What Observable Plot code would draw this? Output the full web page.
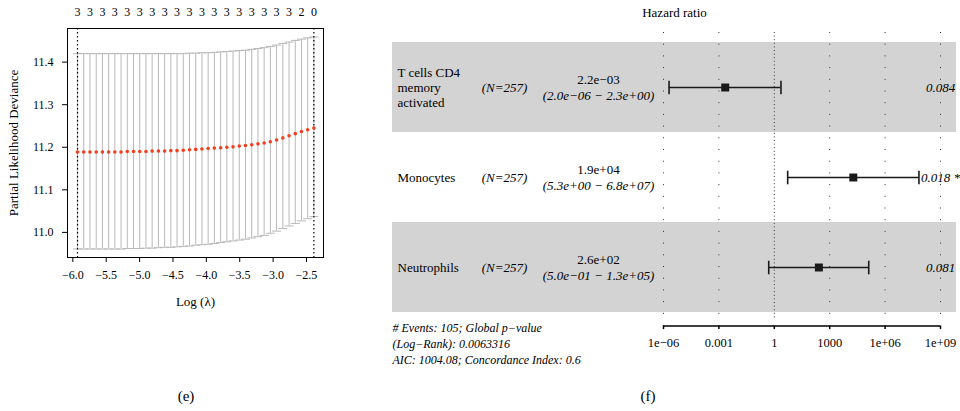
<!DOCTYPE html>
<html>
<head>
<meta charset="utf-8">
<script src="https://cdn.jsdelivr.net/npm/d3@7"></script>
<script src="https://cdn.jsdelivr.net/npm/@observablehq/plot@0.6"></script>
<style>
  body { margin: 0; background: #fff; }
  #page { position: relative; width: 960px; height: 411px; font-family: "Liberation Serif", serif; color: #000; }
  #page svg { font-family: "Liberation Serif", serif; }
  #lasso { position: absolute; left: 0; top: 0; }
  #forest { position: absolute; left: 380px; top: 0; }
  .caption { position: absolute; top: 388px; width: 40px; margin-left: -20px; text-align: center; font-size: 15px; }
</style>
</head>
<body>
<div id="page">
  <div id="lasso"></div>
  <div id="forest"></div>
  <div class="caption" style="left:186px">(e)</div>
  <div class="caption" style="left:648px">(f)</div>
</div>
<script>
// ---- (e) Cross-validated partial likelihood deviance along the lambda path ----
const logLambda = [
  -5.930, -5.837, -5.744, -5.650, -5.557, -5.464, -5.371, -5.278, -5.184, -5.091,
  -4.998, -4.905, -4.812, -4.718, -4.625, -4.532, -4.439, -4.346, -4.252, -4.159,
  -4.066, -3.973, -3.880, -3.786, -3.693, -3.600, -3.507, -3.414, -3.320, -3.227,
  -3.134, -3.041, -2.948, -2.854, -2.761, -2.668, -2.575, -2.482, -2.389
];
const cvMean = [
  11.189, 11.189, 11.189, 11.189, 11.189, 11.189, 11.189, 11.189, 11.190, 11.190,
  11.190, 11.190, 11.191, 11.191, 11.191, 11.192, 11.192, 11.193, 11.194, 11.195,
  11.196, 11.197, 11.198, 11.199, 11.200, 11.201, 11.203, 11.204, 11.206, 11.208,
  11.210, 11.213, 11.217, 11.222, 11.227, 11.232, 11.237, 11.241, 11.245
];
const cvUpper = [
  11.420, 11.420, 11.420, 11.420, 11.420, 11.420, 11.420, 11.420, 11.420, 11.420,
  11.420, 11.420, 11.420, 11.420, 11.420, 11.420, 11.420, 11.420, 11.421, 11.421,
  11.422, 11.422, 11.423, 11.424, 11.425, 11.426, 11.427, 11.428, 11.430, 11.432,
  11.434, 11.437, 11.440, 11.444, 11.447, 11.451, 11.454, 11.457, 11.459
];
const cvLower = [
  10.961, 10.961, 10.961, 10.961, 10.961, 10.961, 10.961, 10.961, 10.962, 10.962,
  10.962, 10.963, 10.963, 10.964, 10.965, 10.965, 10.966, 10.967, 10.968, 10.970,
  10.971, 10.972, 10.974, 10.976, 10.978, 10.980, 10.982, 10.984, 10.987, 10.990,
  10.993, 10.998, 11.003, 11.009, 11.015, 11.021, 11.027, 11.032, 11.037
];
// number of non-zero coefficients, printed at every other lambda along the top
const nonzeroShown = [3, 3, 3, 3, 3, 3, 3, 3, 3, 3, 3, 3, 3, 3, 3, 3, 3, 3, 2, 0];
const lambdaTicks = [-6.0, -5.5, -5.0, -4.5, -4.0, -3.5, -3.0, -2.5];
const devianceTicks = [11.0, 11.1, 11.2, 11.3, 11.4];
const logLambdaMin = logLambda[0];
const logLambda1se = logLambda[logLambda.length - 1];

const cv = logLambda.map((x, i) => ({x, mean: cvMean[i], hi: cvUpper[i], lo: cvLower[i]}));
const topLabels = logLambda.filter((_, i) => i % 2 === 0).map((x, i) => ({x, n: nonzeroShown[i]}));

// line-shaped symbols for error-bar caps
const hbar = {draw(ctx, size) { const r = Math.sqrt(size / Math.PI); ctx.moveTo(-r, 0); ctx.lineTo(r, 0); }};
const vbar = {draw(ctx, size) { const r = Math.sqrt(size / Math.PI); ctx.moveTo(0, -r); ctx.lineTo(0, r); }};

const fmt1 = d3.format(".1f");
const barGrey = "#b8b8b8";
const serif = "'Liberation Serif', serif";

const lasso = Plot.plot({
  width: 340, height: 320,
  marginLeft: 67, marginRight: 17, marginTop: 28, marginBottom: 63,
  style: {fontFamily: serif, fontSize: "12px", color: "#000", background: "#fff"},
  x: {domain: [-6.08, -2.245]},
  y: {domain: [10.941, 11.479]},
  marks: [
    Plot.ruleX(cv, {x: "x", y1: "lo", y2: "hi", stroke: barGrey, strokeWidth: 1}),
    Plot.dot(cv, {x: "x", y: "hi", symbol: hbar, r: 4.5, fill: "none", stroke: barGrey, strokeWidth: 1}),
    Plot.dot(cv, {x: "x", y: "lo", symbol: hbar, r: 4.5, fill: "none", stroke: barGrey, strokeWidth: 1}),
    Plot.ruleX([logLambdaMin, logLambda1se], {stroke: "#000", strokeWidth: 1.2, strokeDasharray: "1.5,2.5"}),
    Plot.dot(cv, {x: "x", y: "mean", r: 1.8, fill: "#f2401f", stroke: null}),
    Plot.text(topLabels, {x: "x", text: "n", frameAnchor: "top", lineAnchor: "middle", dy: -16, fontSize: 12}),
    Plot.frame({stroke: "#000"}),
    Plot.axisX({ticks: lambdaTicks, tickFormat: fmt1, tickSize: 5, tickPadding: 8, fontSize: 12,
      label: "Log (λ)", labelAnchor: "center", labelOffset: 48, labelArrow: "none"}),
    Plot.axisY({ticks: devianceTicks, tickFormat: fmt1, tickSize: 5, tickPadding: 9, fontSize: 12,
      label: "Partial Likelihood Deviance", labelAnchor: "center", labelOffset: 59, labelArrow: "none"})
  ]
});
// axis titles a touch larger than the tick labels
lasso.querySelectorAll("[aria-label='x-axis label'], [aria-label='y-axis label']").forEach(g => g.setAttribute("font-size", 13));
document.getElementById("lasso").append(lasso);

// ---- (f) Multivariate Cox model forest plot ----
const variables = ["T cells CD4\nmemory\nactivated", "Monocytes", "Neutrophils"];
const nPatients = [257, 257, 257];
const hazardRatio = [2.2e-3, 1.9e4, 2.6e2];
const ciLow = [2.0e-6, 5.3, 0.5];
const ciHigh = [2.3, 6.8e7, 1.3e5];
const pValues = ["0.084", "0.018 *", "0.081"];
const hrTicks = [1e-6, 1e-3, 1, 1e3, 1e6, 1e9];
const hrTickLabels = ["1e\u221206", "0.001", "1", "1000", "1e+06", "1e+09"];
const footnote = "# Events: 105; Global p\u2212value\n(Log\u2212Rank): 0.0063316\nAIC: 1004.08; Concordance Index: 0.6";

// R-style scientific notation, e.g. 2.2e−03
function sci(v) {
  const [m, e] = v.toExponential(1).split("e");
  return `${m}e${e[0] === "-" ? "\u2212" : "+"}${e.slice(1).padStart(2, "0")}`;
}

const rows = variables.map((name, i) => ({
  row: i + 1, name, n: nPatients[i], hr: hazardRatio[i], lo: ciLow[i], hi: ciHigh[i], p: pValues[i]
}));
const axisLevel = 3.65;   // row units: just under the last band
const tickEnd = 3.69;
const ink = "#1a1a1a";

const forest = Plot.plot({
  width: 580, height: 370,
  marginLeft: 12, marginRight: 4, marginTop: 32, marginBottom: 50,
  style: {fontFamily: serif, fontSize: "12.5px", color: "#000", background: "#fff"},
  x: {type: "log", domain: [1e-6, 1e9], range: [283, 560], axis: null},
  y: {domain: [0.5, 3.5], range: [42, 312], axis: null},
  marks: [
    Plot.rect(rows.filter(d => d.row % 2 === 1), {y1: d => d.row - 0.5, y2: d => d.row + 0.5, fill: "#d3d3d4"}),
    Plot.ruleX(hrTicks.filter(t => t !== 1), {stroke: "#333", strokeWidth: 1, strokeDasharray: "1,10.7"}),
    Plot.ruleX([1], {stroke: "#333", strokeWidth: 1, strokeDasharray: "1,2.6"}),
    Plot.ruleY(rows, {y: "row", x1: "lo", x2: "hi", stroke: ink, strokeWidth: 1.6}),
    Plot.dot(rows, {x: "lo", y: "row", symbol: vbar, r: 6.8, fill: "none", stroke: ink, strokeWidth: 1.6}),
    Plot.dot(rows, {x: "hi", y: "row", symbol: vbar, r: 6.8, fill: "none", stroke: ink, strokeWidth: 1.6}),
    Plot.dot(rows, {x: "hr", y: "row", symbol: "square", r: 4.5, fill: ink, stroke: null}),
    Plot.text(rows, {y: "row", text: "name", frameAnchor: "left", dx: 5, textAnchor: "start", fontSize: 13, lineHeight: 1.15}),
    Plot.text(rows, {y: "row", text: d => `(N=${d.n})`, frameAnchor: "left", dx: 112, textAnchor: "middle", fontStyle: "italic", fontSize: 13}),
    Plot.text(rows, {y: "row", text: d => sci(d.hr), frameAnchor: "left", dx: 206, dy: -8, textAnchor: "middle", fontSize: 13}),
    Plot.text(rows, {y: "row", text: d => `(${sci(d.lo)} \u2212 ${sci(d.hi)})`, frameAnchor: "left", dx: 206, dy: 8, textAnchor: "middle", fontStyle: "italic", fontSize: 13}),
    Plot.text(rows, {y: "row", text: "p", frameAnchor: "right", dx: -16, textAnchor: "middle", fontStyle: "italic", fontSize: 13}),
    Plot.text(["Hazard ratio"], {frameAnchor: "top", lineAnchor: "middle", dy: -20, fontSize: 13}),
    // x axis restricted to the tick range
    Plot.ruleY([axisLevel], {x1: hrTicks[0], x2: hrTicks[hrTicks.length - 1], stroke: "#000", strokeWidth: 1.7}),
    Plot.ruleX(hrTicks, {x: d => d, y1: axisLevel, y2: tickEnd, stroke: "#000", strokeWidth: 1.5}),
    Plot.text(hrTicks, {x: d => d, y: axisLevel, dy: 16.5, text: (d, i) => hrTickLabels[i], fontSize: 12.5}),
    Plot.text([footnote], {frameAnchor: "left", y: axisLevel, dy: 16.5, textAnchor: "start", fontStyle: "italic", fontSize: 12, lineHeight: 1.33})
  ]
});
document.getElementById("forest").append(forest);
</script>
</body>
</html>
